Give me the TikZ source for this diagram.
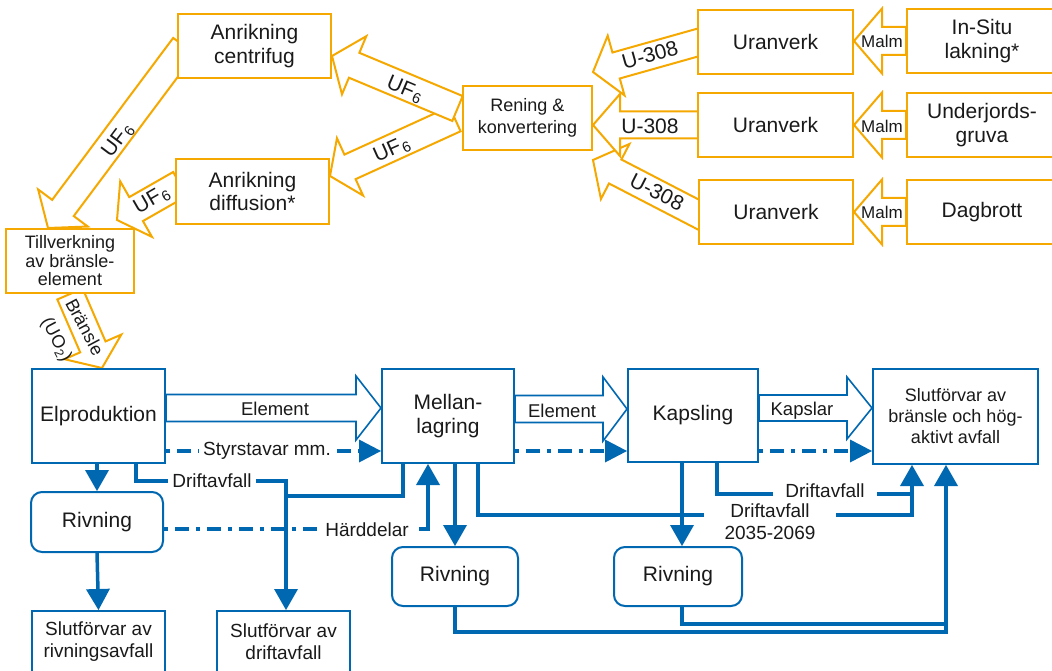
\documentclass[tikz,border=0pt]{standalone}
\usepackage{fontspec}
\setmainfont{Liberation Sans}
\usetikzlibrary{calc,arrows.meta}
\pgfdeclarelayer{bg}
\pgfsetlayers{bg,main}
\definecolor{orng}{HTML}{F5A800}
\definecolor{blu}{HTML}{0067B1}
\definecolor{txt}{HTML}{1A1A1A}
% #1 style, #2 tail, #3 tip, #4 shaft half width, #5 head half width, #6 head length
\newcommand\fatarrow[6]{%
  \coordinate (fabase) at ($(#3)!#6!(#2)$);
  \filldraw[#1] ($(#2)!#4!90:(#3)$) -- ($(fabase)!#4!90:(#3)$) -- ($(fabase)!#5!90:(#3)$) -- (#3)
     -- ($(fabase)!#5!-90:(#3)$) -- ($(fabase)!#4!-90:(#3)$) -- ($(#2)!#4!-90:(#3)$) -- cycle;}
\tikzset{
 bigf/.style={font=\fontsize{21}{23.5}\selectfont},
 obox/.style={draw=orng, line width=2pt, fill=white, align=center, text=txt, inner sep=1pt, bigf},
 bbox/.style={draw=blu, line width=2pt, fill=white, align=center, text=txt, inner sep=1pt, bigf},
 rbox/.style={bbox, rounded corners=11pt},
 ofat/.style={draw=orng, line width=2pt, fill=white},
 bfat/.style={draw=blu, line width=1.6pt, fill=white},
 conn/.style={draw=blu, line width=3.5pt},
 tipA/.style={-{Triangle[length=21pt,width=24pt,line width=0pt]}},
 tipB/.style={-{Triangle[length=22pt,width=23pt,line width=0pt]}},
 ddash/.style={draw=blu, line width=4pt, dash pattern=on 4pt off 7pt on 14pt off 7pt},
 lbl/.style={fill=white, text=txt, inner ysep=1pt, inner xsep=4pt, font=\fontsize{19}{22}\selectfont, align=center},
 alab/.style={text=txt, inner sep=0pt, bigf},
}
\begin{document}
\begin{tikzpicture}[x=1pt,y=-1pt]
\useasboundingbox (0,0) rectangle (1052,671);
% ---------- orange boxes
\node[obox, minimum width=153pt, minimum height=64pt] (cent) at (254.5,46) {Anrikning\\centrifug};
\node[obox, minimum width=153pt, minimum height=65pt] (diff) at (252.5,191.5) {Anrikning\\diffusion*};
\node[obox, minimum width=128pt, minimum height=64pt, font=\fontsize{18}{18.5}\selectfont] (till) at (70,261) {Tillverkning\\av bränsle-\\element};
\node[obox, minimum width=129pt, minimum height=64pt, font=\fontsize{18}{22}\selectfont] (ren) at (527.5,118) {Rening \&\\konvertering};
\node[obox, minimum width=155pt, minimum height=64pt] (uv1) at (775.5,42) {Uranverk};
\node[obox, minimum width=155pt, minimum height=64pt] (uv2) at (775.5,125) {Uranverk};
\node[obox, minimum width=154pt, minimum height=64pt] (uv3) at (776,212) {Uranverk};
\node[obox, minimum width=150pt, minimum height=64pt] (ins) at (982,41) {In-Situ\\lakning*};
\node[obox, minimum width=150pt, minimum height=64pt] (und) at (982,125) {Underjords-\\gruva};
\node[obox, minimum width=150pt, minimum height=64pt] (dag) at (982,212) {Dagbrott};
% ---------- blue boxes
\node[bbox, minimum width=133pt, minimum height=94pt] (elp) at (98.5,416) {Elproduktion};
\node[bbox, minimum width=132pt, minimum height=94pt] (mel) at (448,416) {Mellan-\\lagring};
\node[bbox, minimum width=130pt, minimum height=93pt] (kap) at (693,415.5) {Kapsling};
\node[bbox, minimum width=165pt, minimum height=95pt, font=\fontsize{18}{21}\selectfont] (slf) at (955.5,416.5) {Slutförvar av\\bränsle och hög-\\aktivt avfall};
\node[rbox, minimum width=132pt, minimum height=60pt] (riv1) at (97,522) {Rivning};
\node[rbox, minimum width=126pt, minimum height=59pt] (riv2) at (455,576.5) {Rivning};
\node[rbox, minimum width=128pt, minimum height=59pt] (riv3) at (678,576.5) {Rivning};
\node[bbox, minimum width=133pt, minimum height=62pt, font=\fontsize{19}{22}\selectfont] (sra) at (98.5,642) {Slutförvar av\\rivningsavfall};
\node[bbox, minimum width=133pt, minimum height=62pt, font=\fontsize{19}{22}\selectfont] (sdr) at (283.5,642) {Slutförvar av\\driftavfall};
% ---------- arrow end points
\coordinate (m1h) at (uv1.east |- ins.west);
\coordinate (m2h) at (uv2.east |- und.west);
\coordinate (m3h) at (uv3.east |- dag.west);
\coordinate (u1t) at (705,40.5); \coordinate (u1h) at (ren.east |- 0,72);
\coordinate (u2t) at (705,125);  \coordinate (u2h) at (ren.east |- uv2.west);
\coordinate (u3t) at (705,218);  \coordinate (u3h) at (ren.east |- 0,160);
\coordinate (f1t) at (457.5,108.5); \coordinate (f1h) at (cent.east |- 0,56);
\coordinate (f2t) at (455,119);  \coordinate (f2h) at (diff.east |- 0,176);
\coordinate (f3t) at (184,46);   \coordinate (f3h) at (till.north -| 48,0);
\coordinate (f4t) at (180,184);  \coordinate (f4h) at (117,220);
\coordinate (brh) at (elp.north -| 102,0);
\coordinate (e1t) at (elp.east |- 0,408); \coordinate (e1h) at (mel.west |- 0,408);
\coordinate (e2t) at (mel.east |- 0,409); \coordinate (e2h) at (kap.west |- 0,409);
\coordinate (e3t) at (kap.east |- 0,408); \coordinate (e3h) at (slf.west |- 0,408);
\begin{pgfonlayer}{bg}
\fatarrow{ofat}{ins.west}{m1h}{14pt}{32.5pt}{28pt}
\fatarrow{ofat}{und.west}{m2h}{14pt}{32.5pt}{28pt}
\fatarrow{ofat}{dag.west}{m3h}{14pt}{32.5pt}{28pt}
\fatarrow{ofat}{u3t}{u3h}{13.5pt}{31pt}{25pt}
\fatarrow{ofat}{u2t}{u2h}{13.5pt}{31pt}{27pt}
\fatarrow{ofat}{u1t}{u1h}{13.5pt}{31pt}{24pt}
\fatarrow{ofat}{f2t}{f2h}{13.5pt}{31.5pt}{22pt}
\fatarrow{ofat}{f1t}{f1h}{13.5pt}{31.5pt}{24pt}
\fatarrow{ofat}{f3t}{f3h}{13.5pt}{31pt}{25pt}
\fatarrow{ofat}{f4t}{f4h}{13.8pt}{32pt}{22pt}
\fatarrow{ofat}{till.south}{brh}{13.8pt}{31pt}{23pt}
\fatarrow{bfat}{e1t}{e1h}{13.5pt}{32pt}{25pt}
\fatarrow{bfat}{e2t}{e2h}{13.5pt}{32pt}{24pt}
\fatarrow{bfat}{e3t}{e3h}{13pt}{31pt}{25pt}
\end{pgfonlayer}
% ---------- arrow labels
\node[alab, font=\fontsize{17}{19}\selectfont] (ml1) at ($(ins.west)+(-24,0)$) {Malm};
\node[alab, font=\fontsize{17}{19}\selectfont] (ml2) at ($(und.west)+(-24,1)$) {Malm};
\node[alab, font=\fontsize{17}{19}\selectfont] (ml3) at ($(dag.west)+(-24,0)$) {Malm};
\node[alab, rotate=15.6] (lu1) at (650,55) {U-308};
\node[alab] (lu2) at (650,126) {U-308};
\node[alab, rotate=-27] (lu3) at (657,192) {U-308};
\node[alab, rotate=-23] (lf1) at (405,90) {UF\kern1pt\textsubscript{6}};
\node[alab, rotate=24] (lf2) at (392,150) {UF\kern1pt\textsubscript{6}};
\node[alab, rotate=53] (lf3) at (118,140) {UF\kern1pt\textsubscript{6}};
\node[alab, rotate=30] (lf4) at (152,200) {UF\kern1pt\textsubscript{6}};
\node[alab, rotate=-62, font=\fontsize{18}{20}\selectfont] (lbr1) at (85,327) {Bränsle};
\node[alab, rotate=-62, font=\fontsize{18}{20}\selectfont] (lbr2) at (56,340) {(UO\textsubscript{2})};
\node[alab, font=\fontsize{18.5}{20}\selectfont] (le1) at (275,409) {Element};
\node[alab, font=\fontsize{18.5}{20}\selectfont] (le2) at (562,411) {Element};
\node[alab, font=\fontsize{18.5}{20}\selectfont] (lk) at (802,411) {Kapslar};
% ---------- dash-dot connectors
\draw[ddash, tipB] (elp.east |- 0,451) -- (mel.west |- 0,451);
\draw[ddash, tipB] (mel.east |- 0,451) -- (kap.west |- 0,451);
\draw[ddash, tipB] (kap.east |- 0,451) -- (slf.west |- 0,451);
\node[lbl] (lst) at (267,451) {Styrstavar mm.};
% ---------- solid connectors
\draw[conn, tipA] (riv1.north |- elp.south) -- (riv1.north);
\draw[conn, tipA] (riv1.south) -- (sra.north);
\coordinate (dj) at (286,481);
\draw[conn, tipA] (elp.south -| 136,0) |- (dj) -- (dj |- sdr.north);
\draw[conn] (mel.south -| 403,0) |- (dj |- 0,496);
\node[lbl] (ld1) at (212,481) {Driftavfall};
\coordinate (hd) at (428,529);
\draw[ddash] (riv1.east |- hd) -- ([xshift=-8pt]hd);
\draw[conn, tipA] ([xshift=-9pt]hd) -| (hd |- mel.south);
\node[lbl, inner xsep=8pt] (lhd) at (367,530) {Härddelar};
\draw[conn, tipA] (riv2.north |- mel.south) -- (riv2.north);
\coordinate (sj1) at (912,515);
\draw[conn, tipA] (mel.south -| 478,0) |- (sj1) -- (sj1 |- slf.south);
\coordinate (r3n) at ([xshift=4pt]riv3.north);
\coordinate (r3s) at ([xshift=4pt]riv3.south);
\draw[conn, tipA] (r3n |- kap.south) -- (r3n);
\draw[conn] (kap.south -| 717,0) |- (sj1 |- 0,494);
\node[lbl, inner xsep=12pt] (ld2) at (825,491) {Driftavfall};
\node[lbl, inner xsep=21pt] (ld3) at (770,522) {Driftavfall\\2035-2069};
\coordinate (sj2) at (946,632);
\draw[conn, tipA] (riv2.south) |- (sj2) -- (sj2 |- slf.south);
\draw[conn] (r3s) |- (sj2 |- 0,624);
\end{tikzpicture}
\end{document}
